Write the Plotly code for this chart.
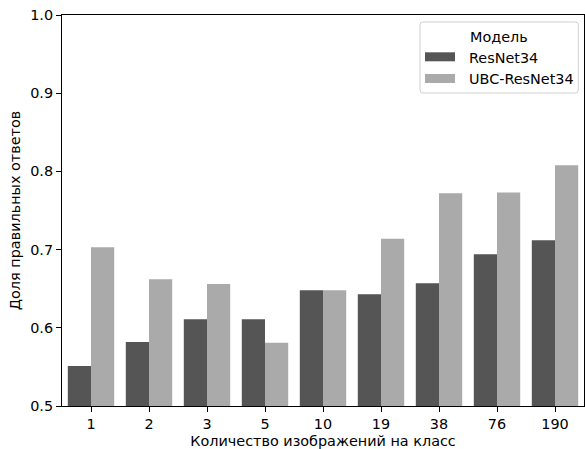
import plotly.graph_objects as go

categories = ["1", "2", "3", "5", "10", "19", "38", "76", "190"]
resnet34 = [0.551, 0.582, 0.611, 0.611, 0.648, 0.643, 0.657, 0.694, 0.712]
ubc_resnet34 = [0.703, 0.662, 0.656, 0.581, 0.648, 0.714, 0.772, 0.773, 0.808]
series_names = ["ResNet34", "UBC-ResNet34"]
series_colors = ["#555555", "#aaaaaa"]
y_ticks = [0.5, 0.6, 0.7, 0.8, 0.9, 1.0]
y_tick_labels = ["0.5", "0.6", "0.7", "0.8", "0.9", "1.0"]
legend_title = "Модель"

FONT = "DejaVu Sans"
FS = 14.4

W, H = 585, 449
ML, MR, MT, MB = 62, 1, 15, 43
PW = W - ML - MR
PH = H - MT - MB


def px(sx):
    """window x pixel -> paper x"""
    return (sx - ML) / PW


def py(sy):
    """window y pixel -> paper y"""
    return (H - MB - sy) / PH


fig = go.Figure()
for name, vals, col in zip(series_names, [resnet34, ubc_resnet34], series_colors):
    fig.add_trace(go.Bar(x=categories, y=vals, name=name,
                         marker=dict(color=col, line=dict(width=0)),
                         showlegend=False))

# matplotlib-style legend drawn as layout shapes/annotations
shapes = []
annotations = []
x0, x1, y0, y1 = px(420), px(578.3), py(22), py(93)
rx, ry = 3 / PW, 3 / PH
path = (f"M {x0+rx},{y0} L {x1-rx},{y0} Q {x1},{y0} {x1},{y0-ry} "
        f"L {x1},{y1+ry} Q {x1},{y1} {x1-rx},{y1} "
        f"L {x0+rx},{y1} Q {x0},{y1} {x0},{y1+ry} "
        f"L {x0},{y0-ry} Q {x0},{y0} {x0+rx},{y0} Z")
shapes.append(dict(type="path", xref="paper", yref="paper", path=path,
                   fillcolor="rgba(255,255,255,0.8)",
                   line=dict(color="#d0d0d0", width=1), layer="above"))
annotations.append(dict(text=legend_title, xref="paper", yref="paper",
                        x=px(499), y=py(36.8), xanchor="center", yanchor="middle",
                        showarrow=False, font=dict(family=FONT, size=FS, color="black")))
row_y = [(52.3, 61.3, 57.6), (74, 83, 79.3)]
for (sy0, sy1, ty), name, col in zip(row_y, series_names, series_colors):
    shapes.append(dict(type="rect", xref="paper", yref="paper",
                       x0=px(425), x1=px(455), y0=py(sy0), y1=py(sy1),
                       fillcolor=col, line=dict(width=0), layer="above"))
    annotations.append(dict(text=name, xref="paper", yref="paper",
                            x=px(467), y=py(ty), xanchor="left", yanchor="middle",
                            showarrow=False,
                            font=dict(family=FONT, size=FS, color="black")))

fig.update_layout(
    width=W, height=H,
    margin=dict(l=ML, r=MR, t=MT, b=MB, autoexpand=False),
    paper_bgcolor="white", plot_bgcolor="white",
    barmode="group", bargap=0.2, bargroupgap=0,
    font=dict(family=FONT, size=FS, color="black"),
    showlegend=False,
    hovermode=False,
    shapes=shapes,
    annotations=annotations,
)
fig.update_xaxes(
    type="category", range=[-0.5, 8.5],
    showline=True, linecolor="black", linewidth=1, mirror=True,
    ticks="outside", ticklen=5, tickcolor="black",
    showgrid=False, automargin=True,
    title=dict(text="Количество изображений на класс", standoff=7,
               font=dict(size=FS)),
    tickfont=dict(size=FS),
)
fig.update_yaxes(
    range=[0.5, 1.0], tickvals=y_ticks, ticktext=y_tick_labels,
    showline=True, linecolor="black", linewidth=1, mirror=True,
    ticks="outside", ticklen=5, tickcolor="black",
    showgrid=False, zeroline=False, automargin=False,
    title=dict(text="Доля правильных ответов", standoff=6, font=dict(size=FS)),
    tickfont=dict(size=FS),
)

fig.write_html(
    "out.html",
    config={"displayModeBar": False, "staticPlot": True},
    post_script="document.body.style.margin='0';document.body.style.overflow='hidden';",
)
